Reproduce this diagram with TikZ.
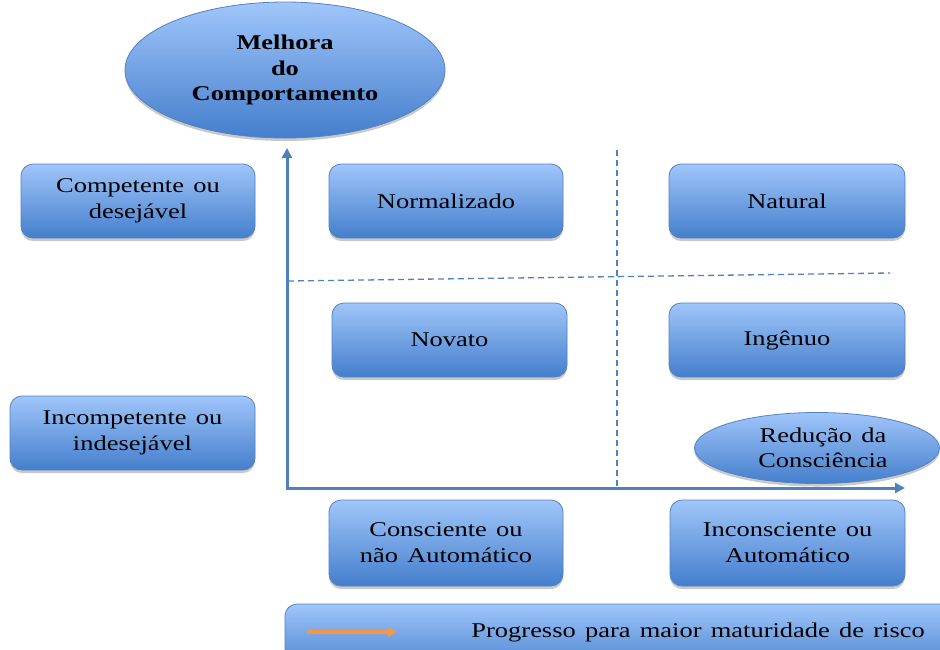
\documentclass[tikz,border=0pt]{standalone}
\usepackage{fontspec}
\setmainfont{Liberation Serif}[FakeStretch=1.26, WordSpace={1.4,1.0,1.0}]
\usetikzlibrary{shapes.geometric,shadows,arrows.meta}
\definecolor{boxtop}{RGB}{160,198,250}
\definecolor{boxbot}{RGB}{68,126,204}
\definecolor{boxedge}{RGB}{84,130,196}
\definecolor{axisblue}{RGB}{79,129,189}
\definecolor{arrorange}{RGB}{247,150,70}
\tikzset{
  shaded/.style={draw=boxedge, line width=0.8pt, top color=boxtop, bottom color=boxbot,
    drop shadow={opacity=0.35, shadow xshift=0pt, shadow yshift=-3pt, fill=black!60}},
  card/.style={shaded, rectangle, rounded corners=12pt, align=center, inner sep=0pt,
    font=\fontsize{21}{26}\selectfont},
  oval/.style={shaded, ellipse, align=center, inner sep=0pt},
  axis/.style={draw=axisblue, line width=3pt, {Triangle[length=10pt,width=10pt]}-{Triangle[length=10pt,width=10pt]}},
  divider/.style={draw=axisblue, line width=1.3pt, dash pattern=on 6pt off 4pt}
}
\begin{document}
\begin{tikzpicture}[x=1pt,y=-1pt]
\useasboundingbox (0,0) rectangle (940,649);
\clip (0,0) rectangle (940,649);
\fill[white] (0,0) rectangle (940,649);

% row labels
\node[card, minimum width=234pt, minimum height=74pt] (comp) at (138,201) {Competente ou\\desejável};
\node[card, minimum width=245pt, minimum height=74pt] (incomp) at (132.5,433) {Incompetente ou\\indesejável};

% quadrants
\node[card, minimum width=234pt, minimum height=74pt] (norm) at (446,201) {Normalizado};
\node[card, minimum width=236pt, minimum height=74pt] (nat) at (787,201) {Natural};
\node[card, minimum width=235pt, minimum height=74pt] (nov) at (449.5,340) {Novato};
\node[card, minimum width=236pt, minimum height=74pt] (ing) at (787,340) {Ingênuo};

% column labels
\node[card, minimum width=234pt, minimum height=86pt] (cons) at (446,543) {Consciente ou\\não Automático};
\node[card, minimum width=235pt, minimum height=86pt] (incons) at (787.5,543) {Inconsciente ou\\Automático};

% axes
\coordinate (ytop) at (287,148);
\coordinate (xend) at (905,488);
\draw[axis] (ytop) |- (xend);

% quadrant dividers
\coordinate (vtop) at (617,150);
\coordinate (vbot) at (617,488);
\coordinate (hl) at (288,281);
\coordinate (hr) at (890,273);
\draw[divider] (vtop) -- (vbot);
\draw[divider] (hl) -- (hr);

% axis titles
\node[oval, minimum width=320pt, minimum height=136pt,
  font=\bfseries\fontsize{21}{25.5}\selectfont] (melhora) at (285,70) {Melhora\\do\\Comportamento};
\node[oval, minimum width=245pt, minimum height=71pt,
  font=\fontsize{21}{25.5}\selectfont] (reducao) at (817,448) {\hspace*{12pt}Redução da\\\hspace*{12pt}Consciência};

% legend bar
\node[card, minimum width=675pt, minimum height=70pt] (bar) at (622.5,639) {};
\node[font=\fontsize{21}{26}\selectfont, anchor=east, inner sep=0pt] (prog) at (925,632) {Progresso para maior maturidade de risco};
\coordinate (a1) at (307,632);
\coordinate (a2) at (397,632);
\draw[draw=arrorange, line width=3.5pt, -{Triangle[length=9pt,width=9pt]}] (a1) -- (a2);
\end{tikzpicture}
\end{document}
